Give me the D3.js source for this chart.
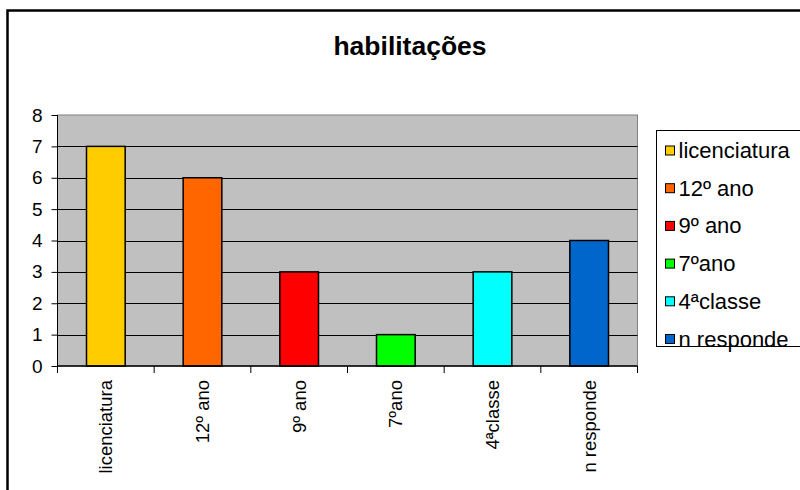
<!DOCTYPE html>
<html>
<head>
<meta charset="utf-8">
<script src="https://cdn.jsdelivr.net/npm/d3@7"></script>
<style>
  html, body { margin: 0; padding: 0; background: #fff; }
  svg { display: block; font-family: "Liberation Sans", Arial, sans-serif; }
</style>
</head>
<body>
<svg id="chart" width="800" height="490"></svg>
<script>
// Education levels and counts
const categories = ["licenciatura", "12º ano", "9º ano", "7ºano", "4ªclasse", "n responde"];
const counts = [7, 6, 3, 1, 3, 4];
const colors = ["#FFCC00", "#FF6600", "#FF0000", "#00FF00", "#00FFFF", "#0066CC"];
const yTicks = [0, 1, 2, 3, 4, 5, 6, 7, 8];
const title = "habilitações";

const svg = d3.select("#chart");

// Outer chart frame
svg.append("rect")
  .attr("x", 7.5).attr("y", 10.5)
  .attr("width", 820).attr("height", 500)
  .attr("fill", "#fff").attr("stroke", "#000").attr("stroke-width", 2.5);

const plot = { left: 57.5, right: 637.5, top: 115, bottom: 366 };

const x = d3.scaleBand()
  .domain(categories)
  .range([plot.left, plot.right])
  .paddingInner(0)
  .paddingOuter(0);

const y = d3.scaleLinear()
  .domain([0, 8])
  .range([plot.bottom, plot.top]);

// Title
svg.append("text")
  .attr("x", 410).attr("y", 55)
  .attr("text-anchor", "middle")
  .attr("font-size", 26.5).attr("font-weight", "bold")
  .text(title);

// Plot background
svg.append("rect")
  .attr("x", plot.left).attr("y", plot.top)
  .attr("width", plot.right - plot.left).attr("height", plot.bottom - plot.top)
  .attr("fill", "#C0C0C0").attr("stroke", "#808080").attr("stroke-width", 1);

// Horizontal gridlines
svg.append("g")
  .selectAll("line")
  .data(yTicks.filter(t => t > 0 && t < 8))
  .join("line")
  .attr("x1", plot.left).attr("x2", plot.right)
  .attr("y1", d => Math.round(y(d)) + 0.5).attr("y2", d => Math.round(y(d)) + 0.5)
  .attr("stroke", "#000").attr("stroke-width", 1);

// Bars
const barW = x.bandwidth() * 0.4;
svg.append("g")
  .selectAll("rect")
  .data(categories)
  .join("rect")
  .attr("x", d => x(d) + (x.bandwidth() - barW) / 2)
  .attr("y", (d, i) => y(counts[i]))
  .attr("width", barW)
  .attr("height", (d, i) => y(0) - y(counts[i]))
  .attr("fill", (d, i) => colors[i])
  .attr("stroke", "#000").attr("stroke-width", 1.5);

// Y axis
const yAxis = d3.axisLeft(y).tickValues(yTicks).tickSize(6).tickPadding(9).tickFormat(d3.format("d"));
const gy = svg.append("g").attr("transform", `translate(${plot.left},0)`).call(yAxis);
gy.select(".domain").attr("stroke", "#000").attr("d", `M0,${plot.top}V${plot.bottom}`);
gy.selectAll(".tick line").attr("stroke", "#000");
gy.selectAll(".tick text").attr("font-size", 19).attr("fill", "#000")
  .attr("font-family", "Liberation Sans, Arial, sans-serif");

// X axis with ticks at category boundaries
svg.append("line")
  .attr("x1", plot.left).attr("x2", plot.right)
  .attr("y1", plot.bottom).attr("y2", plot.bottom)
  .attr("stroke", "#000").attr("stroke-width", 1.5);
const bounds = categories.map(c => x(c)).concat([plot.right]);
svg.append("g")
  .selectAll("line")
  .data(bounds)
  .join("line")
  .attr("x1", d => d).attr("x2", d => d)
  .attr("y1", plot.bottom).attr("y2", plot.bottom + 7)
  .attr("stroke", "#000").attr("stroke-width", 1);

// Rotated category labels
svg.append("g")
  .selectAll("text")
  .data(categories)
  .join("text")
  .attr("transform", d => `translate(${x(d) + x.bandwidth() / 2},380) rotate(-90)`)
  .attr("text-anchor", "end")
  .attr("dominant-baseline", "central")
  .attr("font-size", 18.5)
  .text(d => d);

// Legend
const legend = svg.append("g");
legend.append("rect")
  .attr("x", 656.5).attr("y", 130.5)
  .attr("width", 200).attr("height", 216)
  .attr("fill", "#fff").attr("stroke", "#000").attr("stroke-width", 1);
const ly = d3.scalePoint().domain(categories).range([150.5, 339]);
const items = legend.selectAll("g.item")
  .data(categories)
  .join("g").attr("class", "item")
  .attr("transform", d => `translate(0,${ly(d)})`);
items.append("rect")
  .attr("x", 665.5).attr("y", -4.5)
  .attr("width", 9).attr("height", 9)
  .attr("fill", (d, i) => colors[i])
  .attr("stroke", "#000").attr("stroke-width", 1);
items.append("text")
  .attr("x", 678.5).attr("y", 0)
  .attr("dominant-baseline", "central")
  .attr("font-size", 22)
  .text(d => d);
</script>
</body>
</html>
